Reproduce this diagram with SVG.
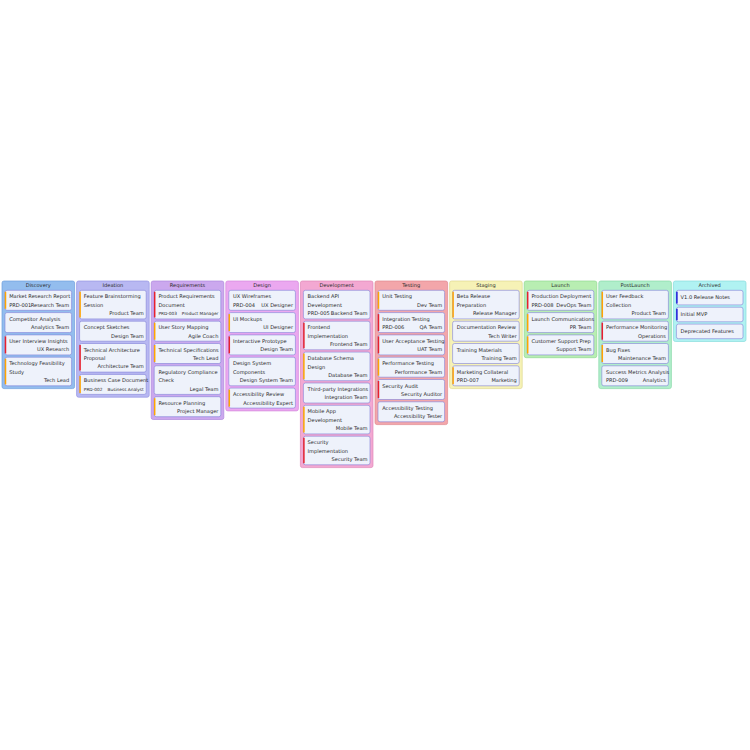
<svg xmlns="http://www.w3.org/2000/svg" width="750" height="750" viewBox="0 0 750 750">
<style>
text{font-family:"DejaVu Sans","Noto Sans",sans-serif;font-size:5.1px;fill:#2b2b2b}
.h{text-anchor:middle}
.r{text-anchor:end}
.s{font-size:4.3px}
.col{stroke-width:0.7}
.card{fill:#eef2fb;stroke:#8080d6;stroke-width:0.6}
.pr{stroke-width:1.5}
.hi{stroke:#ffa500}
.vh{stroke:#e8202c}
.lo{stroke:#1a1ad8}
.c0{fill:#93bdee;stroke:#6f9fdc}
.c1{fill:#b8b8f2;stroke:#9494e2}
.c2{fill:#cba8ee;stroke:#ad88dc}
.c3{fill:#eba8f0;stroke:#d488dc}
.c4{fill:#f3a8d2;stroke:#e088b8}
.c5{fill:#f3a6aa;stroke:#e08890}
.c6{fill:#f6f2b6;stroke:#e0d890}
.c7{fill:#b8eeb2;stroke:#90d890}
.c8{fill:#b0eecb;stroke:#88d8a8}
.c9{fill:#b0f2f2;stroke:#88dcdc}
</style>
<rect width="750" height="750" fill="#ffffff"/>

<g id="col-discovery" transform="translate(2,0)">
<rect class="col c0" x="0" y="281" width="72.6" height="107.6" rx="2"/>
<text class="h" x="36.3" y="287">Discovery</text>
<g id="card-market-research"><rect class="card" x="3" y="290.3" width="66.6" height="20" rx="2"/><line class="pr hi" x1="3.5" y1="291.8" x2="3.5" y2="308.8"/><text x="7.2" y="298.3">Market Research Report</text><text x="7.2" y="306.7">PRD-001</text><text class="r" x="67.2" y="306.7">Research Team</text></g>
<g id="card-competitor"><rect class="card" x="3" y="312.6" width="66.6" height="20" rx="2"/><text x="7.2" y="320.6">Competitor Analysis</text><text class="r" x="67.2" y="329">Analytics Team</text></g>
<g id="card-user-interview"><rect class="card" x="3" y="334.9" width="66.6" height="20" rx="2"/><line class="pr vh" x1="3.5" y1="336.4" x2="3.5" y2="353.4"/><text x="7.2" y="342.9">User Interview Insights</text><text class="r" x="67.2" y="351.3">UX Research</text></g>
<g id="card-tech-feasibility"><rect class="card" x="3" y="357.2" width="66.6" height="28.6" rx="2"/><line class="pr hi" x1="3.5" y1="358.7" x2="3.5" y2="384.3"/><text x="7.2" y="365.2">Technology Feasibility</text><text x="7.2" y="373.6">Study</text><text class="r" x="67.2" y="382">Tech Lead</text></g>
</g>

<g id="col-ideation" transform="translate(76.6,0)">
<rect class="col c1" x="0" y="281" width="72.6" height="116.2" rx="2"/>
<text class="h" x="36.3" y="287">Ideation</text>
<g id="card-brainstorming"><rect class="card" x="3" y="290.3" width="66.6" height="28.6" rx="2"/><line class="pr hi" x1="3.5" y1="291.8" x2="3.5" y2="317.4"/><text x="7.2" y="298.3">Feature Brainstorming</text><text x="7.2" y="306.7">Session</text><text class="r" x="67.2" y="315.1">Product Team</text></g>
<g id="card-concept-sketches"><rect class="card" x="3" y="321.2" width="66.6" height="20" rx="2"/><text x="7.2" y="329.2">Concept Sketches</text><text class="r" x="67.2" y="337.6">Design Team</text></g>
<g id="card-tech-architecture"><rect class="card" x="3" y="343.5" width="66.6" height="28.6" rx="2"/><line class="pr vh" x1="3.5" y1="345" x2="3.5" y2="370.6"/><text x="7.2" y="351.5">Technical Architecture</text><text x="7.2" y="359.9">Proposal</text><text class="r" x="67.2" y="368.3">Architecture Team</text></g>
<g id="card-business-case"><rect class="card" x="3" y="374.4" width="66.6" height="20" rx="2"/><line class="pr hi" x1="3.5" y1="375.9" x2="3.5" y2="392.9"/><text x="7.2" y="382.4">Business Case Document</text><text class="s" x="7.2" y="390.8">PRD-002</text><text class="r s" x="67.2" y="390.8">Business Analyst</text></g>
</g>

<g id="col-requirements" transform="translate(151.2,0)">
<rect class="col c2" x="0" y="281" width="72.6" height="138.5" rx="2"/>
<text class="h" x="36.3" y="287">Requirements</text>
<g id="card-prd"><rect class="card" x="3" y="290.3" width="66.6" height="28.6" rx="2"/><line class="pr vh" x1="3.5" y1="291.8" x2="3.5" y2="317.4"/><text x="7.2" y="298.3">Product Requirements</text><text x="7.2" y="306.7">Document</text><text class="s" x="7.2" y="315.1">PRD-003</text><text class="r s" x="67.2" y="315.1">Product Manager</text></g>
<g id="card-user-story"><rect class="card" x="3" y="321.2" width="66.6" height="20" rx="2"/><line class="pr hi" x1="3.5" y1="322.7" x2="3.5" y2="339.7"/><text x="7.2" y="329.2">User Story Mapping</text><text class="r" x="67.2" y="337.6">Agile Coach</text></g>
<g id="card-tech-specs"><rect class="card" x="3" y="343.5" width="66.6" height="20" rx="2"/><line class="pr hi" x1="3.5" y1="345" x2="3.5" y2="362"/><text x="7.2" y="351.5">Technical Specifications</text><text class="r" x="67.2" y="359.9">Tech Lead</text></g>
<g id="card-regulatory"><rect class="card" x="3" y="365.8" width="66.6" height="28.6" rx="2"/><text x="7.2" y="373.8">Regulatory Compliance</text><text x="7.2" y="382.2">Check</text><text class="r" x="67.2" y="390.6">Legal Team</text></g>
<g id="card-resource-planning"><rect class="card" x="3" y="396.7" width="66.6" height="20" rx="2"/><line class="pr hi" x1="3.5" y1="398.2" x2="3.5" y2="415.2"/><text x="7.2" y="404.7">Resource Planning</text><text class="r" x="67.2" y="413.1">Project Manager</text></g>
</g>

<g id="col-design" transform="translate(225.8,0)">
<rect class="col c3" x="0" y="281" width="72.6" height="129.9" rx="2"/>
<text class="h" x="36.3" y="287">Design</text>
<g id="card-ux-wireframes"><rect class="card" x="3" y="290.3" width="66.6" height="20" rx="2"/><text x="7.2" y="298.3">UX Wireframes</text><text x="7.2" y="306.7">PRD-004</text><text class="r" x="67.2" y="306.7">UX Designer</text></g>
<g id="card-ui-mockups"><rect class="card" x="3" y="312.6" width="66.6" height="20" rx="2"/><line class="pr hi" x1="3.5" y1="314.1" x2="3.5" y2="331.1"/><text x="7.2" y="320.6">UI Mockups</text><text class="r" x="67.2" y="329">UI Designer</text></g>
<g id="card-prototype"><rect class="card" x="3" y="334.9" width="66.6" height="20" rx="2"/><line class="pr vh" x1="3.5" y1="336.4" x2="3.5" y2="353.4"/><text x="7.2" y="342.9">Interactive Prototype</text><text class="r" x="67.2" y="351.3">Design Team</text></g>
<g id="card-design-system"><rect class="card" x="3" y="357.2" width="66.6" height="28.6" rx="2"/><text x="7.2" y="365.2">Design System</text><text x="7.2" y="373.6">Components</text><text class="r" x="67.2" y="382">Design System Team</text></g>
<g id="card-accessibility-review"><rect class="card" x="3" y="388.1" width="66.6" height="20" rx="2"/><line class="pr hi" x1="3.5" y1="389.6" x2="3.5" y2="406.6"/><text x="7.2" y="396.1">Accessibility Review</text><text class="r" x="67.2" y="404.5">Accessibility Expert</text></g>
</g>

<g id="col-development" transform="translate(300.4,0)">
<rect class="col c4" x="0" y="281" width="72.6" height="186.6" rx="2"/>
<text class="h" x="36.3" y="287">Development</text>
<g id="card-backend"><rect class="card" x="3" y="290.3" width="66.6" height="28.6" rx="2"/><text x="7.2" y="298.3">Backend API</text><text x="7.2" y="306.7">Development</text><text x="7.2" y="315.1">PRD-005</text><text class="r" x="67.2" y="315.1">Backend Team</text></g>
<g id="card-frontend"><rect class="card" x="3" y="321.2" width="66.6" height="28.6" rx="2"/><line class="pr vh" x1="3.5" y1="322.7" x2="3.5" y2="348.3"/><text x="7.2" y="329.2">Frontend</text><text x="7.2" y="337.6">Implementation</text><text class="r" x="67.2" y="346">Frontend Team</text></g>
<g id="card-database"><rect class="card" x="3" y="352.1" width="66.6" height="28.6" rx="2"/><line class="pr hi" x1="3.5" y1="353.6" x2="3.5" y2="379.2"/><text x="7.2" y="360.1">Database Schema</text><text x="7.2" y="368.5">Design</text><text class="r" x="67.2" y="376.9">Database Team</text></g>
<g id="card-integrations"><rect class="card" x="3" y="383" width="66.6" height="20" rx="2"/><text x="7.2" y="391">Third-party Integrations</text><text class="r" x="67.2" y="399.4">Integration Team</text></g>
<g id="card-mobile"><rect class="card" x="3" y="405.3" width="66.6" height="28.6" rx="2"/><line class="pr hi" x1="3.5" y1="406.8" x2="3.5" y2="432.4"/><text x="7.2" y="413.3">Mobile App</text><text x="7.2" y="421.7">Development</text><text class="r" x="67.2" y="430.1">Mobile Team</text></g>
<g id="card-security-impl"><rect class="card" x="3" y="436.2" width="66.6" height="28.6" rx="2"/><line class="pr vh" x1="3.5" y1="437.7" x2="3.5" y2="463.3"/><text x="7.2" y="444.2">Security</text><text x="7.2" y="452.6">Implementation</text><text class="r" x="67.2" y="461">Security Team</text></g>
</g>

<g id="col-testing" transform="translate(375,0)">
<rect class="col c5" x="0" y="281" width="72.6" height="143.6" rx="2"/>
<text class="h" x="36.3" y="287">Testing</text>
<g id="card-unit"><rect class="card" x="3" y="290.3" width="66.6" height="20" rx="2"/><line class="pr hi" x1="3.5" y1="291.8" x2="3.5" y2="308.8"/><text x="7.2" y="298.3">Unit Testing</text><text class="r" x="67.2" y="306.7">Dev Team</text></g>
<g id="card-integration-testing"><rect class="card" x="3" y="312.6" width="66.6" height="20" rx="2"/><line class="pr vh" x1="3.5" y1="314.1" x2="3.5" y2="331.1"/><text x="7.2" y="320.6">Integration Testing</text><text x="7.2" y="329">PRD-006</text><text class="r" x="67.2" y="329">QA Team</text></g>
<g id="card-uat"><rect class="card" x="3" y="334.9" width="66.6" height="20" rx="2"/><line class="pr vh" x1="3.5" y1="336.4" x2="3.5" y2="353.4"/><text x="7.2" y="342.9">User Acceptance Testing</text><text class="r" x="67.2" y="351.3">UAT Team</text></g>
<g id="card-performance-testing"><rect class="card" x="3" y="357.2" width="66.6" height="20" rx="2"/><line class="pr hi" x1="3.5" y1="358.7" x2="3.5" y2="375.7"/><text x="7.2" y="365.2">Performance Testing</text><text class="r" x="67.2" y="373.6">Performance Team</text></g>
<g id="card-security-audit"><rect class="card" x="3" y="379.5" width="66.6" height="20" rx="2"/><line class="pr vh" x1="3.5" y1="381" x2="3.5" y2="398"/><text x="7.2" y="387.5">Security Audit</text><text class="r" x="67.2" y="395.9">Security Auditor</text></g>
<g id="card-accessibility-testing"><rect class="card" x="3" y="401.8" width="66.6" height="20" rx="2"/><text x="7.2" y="409.8">Accessibility Testing</text><text class="r" x="67.2" y="418.2">Accessibility Tester</text></g>
</g>

<g id="col-staging" transform="translate(449.6,0)">
<rect class="col c6" x="0" y="281" width="72.6" height="107.6" rx="2"/>
<text class="h" x="36.3" y="287">Staging</text>
<g id="card-beta"><rect class="card" x="3" y="290.3" width="66.6" height="28.6" rx="2"/><line class="pr hi" x1="3.5" y1="291.8" x2="3.5" y2="317.4"/><text x="7.2" y="298.3">Beta Release</text><text x="7.2" y="306.7">Preparation</text><text class="r" x="67.2" y="315.1">Release Manager</text></g>
<g id="card-documentation"><rect class="card" x="3" y="321.2" width="66.6" height="20" rx="2"/><text x="7.2" y="329.2">Documentation Review</text><text class="r" x="67.2" y="337.6">Tech Writer</text></g>
<g id="card-training"><rect class="card" x="3" y="343.5" width="66.6" height="20" rx="2"/><text x="7.2" y="351.5">Training Materials</text><text class="r" x="67.2" y="359.9">Training Team</text></g>
<g id="card-marketing"><rect class="card" x="3" y="365.8" width="66.6" height="20" rx="2"/><line class="pr hi" x1="3.5" y1="367.3" x2="3.5" y2="384.3"/><text x="7.2" y="373.8">Marketing Collateral</text><text x="7.2" y="382.2">PRD-007</text><text class="r" x="67.2" y="382.2">Marketing</text></g>
</g>

<g id="col-launch" transform="translate(524.2,0)">
<rect class="col c7" x="0" y="281" width="72.6" height="76.7" rx="2"/>
<text class="h" x="36.3" y="287">Launch</text>
<g id="card-production"><rect class="card" x="3" y="290.3" width="66.6" height="20" rx="2"/><line class="pr vh" x1="3.5" y1="291.8" x2="3.5" y2="308.8"/><text x="7.2" y="298.3">Production Deployment</text><text x="7.2" y="306.7">PRD-008</text><text class="r" x="67.2" y="306.7">DevOps Team</text></g>
<g id="card-launch-comms"><rect class="card" x="3" y="312.6" width="66.6" height="20" rx="2"/><line class="pr hi" x1="3.5" y1="314.1" x2="3.5" y2="331.1"/><text x="7.2" y="320.6">Launch Communications</text><text class="r" x="67.2" y="329">PR Team</text></g>
<g id="card-support-prep"><rect class="card" x="3" y="334.9" width="66.6" height="20" rx="2"/><line class="pr hi" x1="3.5" y1="336.4" x2="3.5" y2="353.4"/><text x="7.2" y="342.9">Customer Support Prep</text><text class="r" x="67.2" y="351.3">Support Team</text></g>
</g>

<g id="col-postlaunch" transform="translate(598.8,0)">
<rect class="col c8" x="0" y="281" width="72.6" height="107.6" rx="2"/>
<text class="h" x="36.3" y="287">PostLaunch</text>
<g id="card-feedback"><rect class="card" x="3" y="290.3" width="66.6" height="28.6" rx="2"/><line class="pr hi" x1="3.5" y1="291.8" x2="3.5" y2="317.4"/><text x="7.2" y="298.3">User Feedback</text><text x="7.2" y="306.7">Collection</text><text class="r" x="67.2" y="315.1">Product Team</text></g>
<g id="card-monitoring"><rect class="card" x="3" y="321.2" width="66.6" height="20" rx="2"/><line class="pr vh" x1="3.5" y1="322.7" x2="3.5" y2="339.7"/><text x="7.2" y="329.2">Performance Monitoring</text><text class="r" x="67.2" y="337.6">Operations</text></g>
<g id="card-bug-fixes"><rect class="card" x="3" y="343.5" width="66.6" height="20" rx="2"/><line class="pr hi" x1="3.5" y1="345" x2="3.5" y2="362"/><text x="7.2" y="351.5">Bug Fixes</text><text class="r" x="67.2" y="359.9">Maintenance Team</text></g>
<g id="card-metrics"><rect class="card" x="3" y="365.8" width="66.6" height="20" rx="2"/><text x="7.2" y="373.8">Success Metrics Analysis</text><text x="7.2" y="382.2">PRD-009</text><text class="r" x="67.2" y="382.2">Analytics</text></g>
</g>

<g id="col-archived" transform="translate(673.4,0)">
<rect class="col c9" x="0" y="281" width="72.6" height="60.5" rx="2"/>
<text class="h" x="36.3" y="287">Archived</text>
<g id="card-release-notes"><rect class="card" x="3" y="290.3" width="66.6" height="14.6" rx="2"/><line class="pr lo" x1="3.5" y1="291.8" x2="3.5" y2="303.4"/><text x="7.2" y="299">V1.0 Release Notes</text></g>
<g id="card-mvp"><rect class="card" x="3" y="307.2" width="66.6" height="14.6" rx="2"/><line class="pr lo" x1="3.5" y1="308.7" x2="3.5" y2="320.3"/><text x="7.2" y="315.9">Initial MVP</text></g>
<g id="card-deprecated"><rect class="card" x="3" y="324.1" width="66.6" height="14.6" rx="2"/><text x="7.2" y="332.8">Deprecated Features</text></g>
</g>
</svg>
